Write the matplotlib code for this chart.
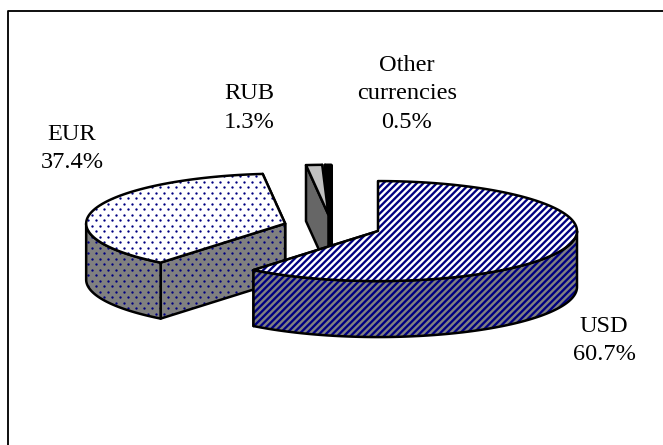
import numpy as np
import matplotlib
matplotlib.use("Agg")
import matplotlib.pyplot as plt
from matplotlib.patches import Polygon

names = ["USD", "EUR", "RUB", "Other\ncurrencies"]
shares = [60.7, 37.4, 1.3, 0.5]
label_x = [604, 72, 249, 407]
label_y = [360.5, 168.5, 127.5, 127.5]

# fill of top and of the sides for each slice
top_colors = ["white", "white", "#c0c0c0", "black"]
side_colors = ["#808080", "#808080", "#666666", "black"]
patterns = ["stripes", "dots", None, None]
pattern_color = "#000080"

# pie geometry, in pixels
cx, cy = 332, 227
rx, ry = 199, 50
depth = 56
explode = 0.245

plt.rcParams["font.family"] = ["Liberation Serif", "DejaVu Serif"]
plt.rcParams["hatch.linewidth"] = 1.4


def rim(center, angles):
    # angles in degrees, clockwise from twelve o'clock
    a = np.radians(angles)
    return np.column_stack([center[0] + rx * np.sin(a), center[1] - ry * np.cos(a)])


def dot_fill(ax, patch, z):
    # the office-style dot fill has smaller dots than the "." hatch
    xs, ys = [], []
    for row, y in enumerate(np.arange(0, 445, 5.5)):
        for x in np.arange(4 * (row % 2), 663, 8):
            xs.append(x)
            ys.append(y)
    dots = ax.scatter(xs, ys, s=2.0, color=pattern_color, linewidths=0, zorder=z)
    dots.set_clip_path(patch)


def face(ax, pts, color, pattern, z):
    if pattern == "stripes":
        ax.add_patch(Polygon(pts, closed=True, facecolor=color, edgecolor=pattern_color,
                             hatch="//////", linewidth=0, zorder=z))
    else:
        p = ax.add_patch(Polygon(pts, closed=True, facecolor=color, edgecolor="none", zorder=z))
        if pattern == "dots":
            dot_fill(ax, p, z)
    ax.add_patch(Polygon(pts, closed=True, fill=False, edgecolor="black",
                         linewidth=1.5, joinstyle="round", zorder=z))


def cut_face(center, angle):
    p = rim(center, [angle])[0]
    return np.array([center, p, p + [0, depth], np.array(center) + [0, depth]])


fig = plt.figure(figsize=(663 / 120, 445 / 120), dpi=120)
ax = fig.add_axes([0, 0, 1, 1])
ax.set_xlim(0, 663)
ax.set_ylim(445, 0)
ax.axis("off")

# chart frame, only top and left are in the picture
ax.plot([7.5, 7.5, 663], [445, 10.5, 10.5], color="black", linewidth=1.1, zorder=1)

fractions = np.array(shares) / sum(shares)
ends = np.cumsum(fractions) * 360
starts = ends - fractions * 360

# back slices first so that the big ones cover them
z = 2
for i in [3, 2, 1, 0]:
    mid = np.radians((starts[i] + ends[i]) / 2)
    center = (cx + explode * rx * np.sin(mid), cy - explode * ry * np.cos(mid))
    face(ax, cut_face(center, ends[i]), side_colors[i], patterns[i], z)
    face(ax, cut_face(center, starts[i]), side_colors[i], patterns[i], z + 1)
    lo, hi = max(starts[i], 90), min(ends[i], 270)
    if hi > lo:
        arc = rim(center, np.linspace(lo, hi, 120))
        outer = np.vstack([arc, arc[::-1] + [0, depth]])
        face(ax, outer, side_colors[i], patterns[i], z + 2)
    top = np.vstack([[center], rim(center, np.linspace(starts[i], ends[i], 200))])
    face(ax, top, top_colors[i], patterns[i], z + 3)
    z += 4

for i in range(len(names)):
    pct = "%.1f%%" % shares[i]
    ax.text(label_x[i], label_y[i], names[i] + "\n" + pct, ha="center", va="baseline",
            multialignment="center", fontsize=14.6, linespacing=1.46, color="black", zorder=30)

fig.savefig("out.png", dpi=120, facecolor="white")
